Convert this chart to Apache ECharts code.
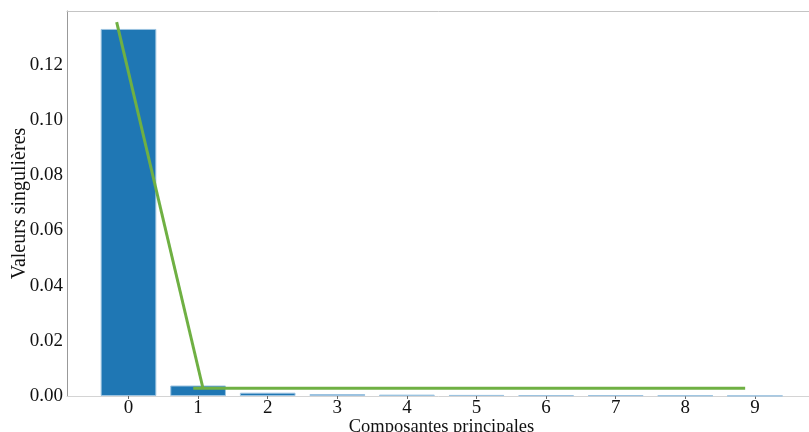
<!DOCTYPE html>
<html>
<head>
<meta charset="utf-8">
<script src="https://cdn.jsdelivr.net/npm/echarts@6/dist/echarts.min.js"></script>
<style>html,body{margin:0;padding:0;background:#fff}#c{width:809px;height:432px}</style>
</head>
<body>
<div id="c"></div>
<script>
const categories = ['0','1','2','3','4','5','6','7','8','9'];
const barValues = [0.1330, 0.0038, 0.0012, 0.0007, 0.0005, 0.0004, 0.0003, 0.0003, 0.0002, 0.0001];
const slopeX = [-0.17, 1.07];
const slopeY = [0.1355, 0.0028];
const flatX = [0.93, 8.86];
const flatY = [0.0028, 0.0028];
const yMax = 0.1395;
const yStep = 0.02;

const font = 'Liberation Serif';
const chart = echarts.init(document.getElementById('c'));
chart.setOption({
  animation: false,
  backgroundColor: '#fff',
  grid: [
    {left: 67, top: 11, width: 749, bottom: 36, containLabel: false, outerBoundsMode: 'none'},
    {left: 93.7, top: 11, width: 696, bottom: 36, containLabel: false, outerBoundsMode: 'none'}
  ],
  xAxis: [
    {type: 'value', gridIndex: 0, min: 0, max: 1, position: 'bottom',
     axisLine: {show: true, lineStyle: {color: '#d4d4d4', width: 1}},
     axisTick: {show: false}, axisLabel: {show: false}, splitLine: {show: false},
     name: 'Composantes principales', nameLocation: 'middle', nameGap: 22, nameMoveOverlap: false,
     nameTextStyle: {fontFamily: font, fontSize: 18.5, color: '#111'}},
    {type: 'value', gridIndex: 0, min: 0, max: 1, position: 'top',
     axisLine: {show: true, lineStyle: {color: '#c4c4c4', width: 1}},
     axisTick: {show: false}, axisLabel: {show: false}, splitLine: {show: false}},
    {type: 'category', gridIndex: 1, data: categories, boundaryGap: true,
     axisLine: {show: false},
     axisTick: {show: true, alignWithLabel: true, length: 3, lineStyle: {color: '#666'}},
     axisLabel: {fontFamily: font, fontSize: 19, color: '#111', margin: 3},
     splitLine: {show: false}},
    {type: 'value', gridIndex: 1, min: -0.5, max: 9.5, show: false}
  ],
  yAxis: [
    {type: 'value', gridIndex: 0, min: 0, max: yMax, interval: yStep,
     axisLine: {show: true, lineStyle: {color: '#999', width: 1}},
     axisTick: {show: false},
     axisLabel: {fontFamily: font, fontSize: 19, color: '#111', margin: 4,
       formatter: function (v) {
         const k = v / yStep;
         return Math.abs(k - Math.round(k)) < 1e-6 ? v.toFixed(2) : '';
       }},
     splitLine: {show: false},
     name: 'Valeurs singulières', nameLocation: 'middle', nameGap: 37, nameMoveOverlap: false,
     nameTextStyle: {fontFamily: font, fontSize: 20, color: '#111'}},
    {type: 'value', gridIndex: 1, min: 0, max: yMax, show: false}
  ],
  series: [
    {type: 'bar', xAxisIndex: 2, yAxisIndex: 1, data: barValues, barWidth: '80%',
     itemStyle: {color: '#1f77b4', borderColor: '#9cc3e0', borderWidth: 1}},
    {type: 'line', xAxisIndex: 3, yAxisIndex: 1, data: slopeX.map((x, i) => [x, slopeY[i]]),
     symbol: 'none', lineStyle: {color: '#6fb043', width: 3}, z: 5},
    {type: 'line', xAxisIndex: 3, yAxisIndex: 1, data: flatX.map((x, i) => [x, flatY[i]]),
     symbol: 'none', lineStyle: {color: '#6fb043', width: 3}, z: 5}
  ]
});
</script>
</body>
</html>
